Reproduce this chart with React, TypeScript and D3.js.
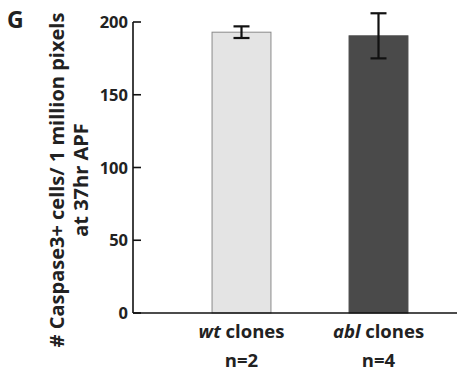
import React, { useEffect, useRef } from 'react';
import * as d3 from 'd3';

const categories = ['wt', 'abl'];
const categoryLabels = ['wt', 'abl'];
const sampleSizes = ['n=2', 'n=4'];
const means = [193, 190.5];
const errors = [4, 15.5];
const yTicks = [0, 50, 100, 150, 200];
const barColors = ['#e4e4e4', '#4a4a4a'];

const W = 457;
const H = 371;

export default function App() {
  const ref = useRef<SVGSVGElement>(null);

  useEffect(() => {
    const svg = d3.select(ref.current);
    svg.selectAll('*').remove();
    const font = '"Open Sans", "DejaVu Sans", sans-serif';

    const y = d3.scaleLinear().domain([0, 200]).range([313, 22]);
    const x = d3.scaleBand<string>().domain(categories).range([173, 447])
      .paddingInner(0.57).paddingOuter(0.285);

    // bars
    svg.selectAll('rect.bar')
      .data(categories)
      .enter()
      .append('rect')
      .attr('class', 'bar')
      .attr('x', d => x(d)!)
      .attr('width', x.bandwidth())
      .attr('y', (d, i) => y(means[i]))
      .attr('height', (d, i) => y(0) - y(means[i]))
      .attr('fill', (d, i) => barColors[i])
      .attr('stroke', (d, i) => (i === 0 ? '#8a8a8a' : '#4a4a4a'))
      .attr('stroke-width', 1);

    // error bars
    const eb = svg.selectAll('g.err')
      .data(categories)
      .enter()
      .append('g')
      .attr('class', 'err')
      .attr('stroke', '#111')
      .attr('stroke-width', 2.2);
    const cx = (d: string) => x(d)! + x.bandwidth() / 2;
    eb.append('line')
      .attr('x1', cx).attr('x2', cx)
      .attr('y1', (d, i) => y(means[i] + errors[i]))
      .attr('y2', (d, i) => y(means[i] - errors[i]));
    [1, -1].forEach(s => {
      eb.append('line')
        .attr('x1', d => cx(d) - 8).attr('x2', d => cx(d) + 8)
        .attr('y1', (d, i) => y(means[i] + s * errors[i]))
        .attr('y2', (d, i) => y(means[i] + s * errors[i]));
    });

    // y axis
    const axisX = 133;
    svg.append('line')
      .attr('x1', axisX).attr('x2', axisX)
      .attr('y1', y(200)).attr('y2', y(0))
      .attr('stroke', '#111').attr('stroke-width', 1.6);
    const ticks = svg.selectAll('g.tick').data(yTicks).enter().append('g');
    ticks.append('line')
      .attr('x1', axisX).attr('x2', axisX + 8)
      .attr('y1', d => y(d)).attr('y2', d => y(d))
      .attr('stroke', '#111').attr('stroke-width', 1.6);
    ticks.append('text')
      .attr('x', axisX - 5)
      .attr('y', d => y(d) + 6)
      .attr('text-anchor', 'end')
      .style('font-family', font)
      .style('font-weight', 'bold')
      .style('font-size', '16.5px')
      .attr('fill', '#222')
      .text(d => d);

    // x axis
    svg.append('line')
      .attr('x1', axisX).attr('x2', W)
      .attr('y1', y(0)).attr('y2', y(0))
      .attr('stroke', '#111').attr('stroke-width', 1.6);

    // category labels
    const lab = svg.selectAll('text.cat')
      .data(categories)
      .enter()
      .append('text')
      .attr('class', 'cat')
      .attr('x', cx)
      .attr('y', 338)
      .attr('text-anchor', 'middle')
      .style('font-family', font)
      .style('font-weight', 'bold')
      .style('font-size', '18.5px')
      .attr('fill', '#222');
    lab.append('tspan').style('font-style', 'italic').text((d, i) => categoryLabels[i]);
    lab.append('tspan').text(' clones');

    svg.selectAll('text.n')
      .data(categories)
      .enter()
      .append('text')
      .attr('x', cx)
      .attr('y', 367)
      .attr('text-anchor', 'middle')
      .style('font-family', font)
      .style('font-weight', 'bold')
      .style('font-size', '18.5px')
      .attr('fill', '#222')
      .text((d, i) => sampleSizes[i]);

    // y label
    const yl = svg.append('text')
      .attr('transform', 'translate(0,180) rotate(-90)')
      .attr('text-anchor', 'middle')
      .style('font-family', font)
      .style('font-weight', 'bold')
      .style('font-size', '20px')
      .attr('fill', '#222');
    yl.append('tspan').attr('x', 0).attr('y', 64).text('# Caspase3+ cells/ 1 million pixels');
    yl.append('tspan').attr('x', 0).attr('y', 88).text('at 37hr APF');

    // panel letter
    svg.append('text')
      .attr('x', 7).attr('y', 28)
      .style('font-family', font)
      .style('font-weight', 'bold')
      .style('font-size', '23px')
      .attr('fill', '#222')
      .text('G');
  }, []);

  return (
    <svg ref={ref} width={W} height={H}
      style={{ position: 'absolute', left: 0, top: 0, background: '#fff' }} />
  );
}
